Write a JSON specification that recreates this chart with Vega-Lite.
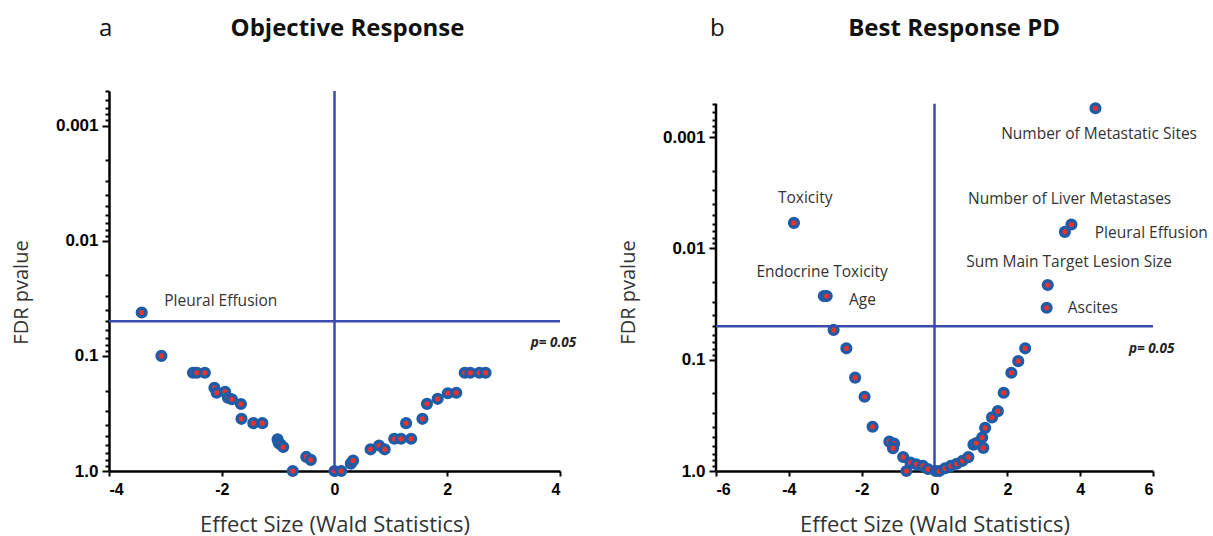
{
  "$schema": "https://vega.github.io/schema/vega-lite/v6.json",
  "background": "white",
  "padding": {"left": 11, "top": 17, "right": 5, "bottom": 2},
  "spacing": 41,
  "config": {
    "view": {"stroke": null},
    "axis": {
      "grid": false,
      "domainColor": "black",
      "domainWidth": 2.5,
      "tickColor": "black",
      "tickWidth": 2,
      "labelFont": "Liberation Sans",
      "labelFontWeight": "bold",
      "labelFontSize": 17,
      "labelColor": "black",
      "titleFont": "Open Sans",
      "titleFontWeight": "normal",
      "titleFontSize": 20,
      "titleColor": "#333333"
    }
  },
  "datasets": {
    "one": [{"k": 1}],
    "ptsA": [
      {"x": -3.42, "p": 0.042},
      {"x": -3.07, "p": 0.1},
      {"x": -2.51, "p": 0.14},
      {"x": -2.44, "p": 0.14},
      {"x": -2.3, "p": 0.14},
      {"x": -2.13, "p": 0.189},
      {"x": -2.09, "p": 0.209},
      {"x": -1.94, "p": 0.205},
      {"x": -1.89, "p": 0.231},
      {"x": -1.82, "p": 0.238},
      {"x": -1.66, "p": 0.262},
      {"x": -1.65, "p": 0.352},
      {"x": -1.44, "p": 0.384},
      {"x": -1.28, "p": 0.384},
      {"x": -1.01, "p": 0.531},
      {"x": -0.99, "p": 0.57},
      {"x": -0.96, "p": 0.586},
      {"x": -0.91, "p": 0.619},
      {"x": -0.5, "p": 0.755},
      {"x": -0.42, "p": 0.8},
      {"x": -0.74, "p": 1.0},
      {"x": 0.0, "p": 1.0},
      {"x": 0.12, "p": 1.0},
      {"x": 0.29, "p": 0.863},
      {"x": 0.33, "p": 0.81},
      {"x": 0.64, "p": 0.648},
      {"x": 0.79, "p": 0.6},
      {"x": 0.89, "p": 0.648},
      {"x": 1.06, "p": 0.525},
      {"x": 1.18, "p": 0.525},
      {"x": 1.36, "p": 0.525},
      {"x": 1.27, "p": 0.384},
      {"x": 1.56, "p": 0.352},
      {"x": 1.64, "p": 0.261},
      {"x": 1.83, "p": 0.236},
      {"x": 2.01, "p": 0.211},
      {"x": 2.16, "p": 0.209},
      {"x": 2.31, "p": 0.14},
      {"x": 2.41, "p": 0.14},
      {"x": 2.57, "p": 0.14},
      {"x": 2.68, "p": 0.14}
    ],
    "ptsB": [
      {"x": 4.42, "p": 0.00055},
      {"x": -3.86, "p": 0.0059},
      {"x": 3.76, "p": 0.0061},
      {"x": 3.58, "p": 0.0071},
      {"x": 3.11, "p": 0.0213},
      {"x": 3.08, "p": 0.0341},
      {"x": -3.04, "p": 0.0268},
      {"x": -2.96, "p": 0.0268},
      {"x": -2.77, "p": 0.054},
      {"x": -2.42, "p": 0.079},
      {"x": -2.18, "p": 0.145},
      {"x": -1.92, "p": 0.215},
      {"x": -1.7, "p": 0.4},
      {"x": -1.24, "p": 0.545},
      {"x": -1.11, "p": 0.568},
      {"x": -1.14, "p": 0.625},
      {"x": -0.86, "p": 0.748},
      {"x": -0.77, "p": 1.0},
      {"x": -0.66, "p": 0.84},
      {"x": -0.5, "p": 0.87},
      {"x": -0.32, "p": 0.9},
      {"x": -0.18, "p": 0.96},
      {"x": 0.03, "p": 1.0},
      {"x": 0.13, "p": 1.0},
      {"x": 0.29, "p": 0.946},
      {"x": 0.45, "p": 0.9},
      {"x": 0.61, "p": 0.86},
      {"x": 0.77, "p": 0.81},
      {"x": 0.93, "p": 0.75},
      {"x": 1.07, "p": 0.58},
      {"x": 1.15, "p": 0.56},
      {"x": 1.31, "p": 0.5},
      {"x": 1.34, "p": 0.62},
      {"x": 1.39, "p": 0.41},
      {"x": 1.58, "p": 0.33},
      {"x": 1.74, "p": 0.29},
      {"x": 1.9, "p": 0.198},
      {"x": 2.11, "p": 0.131},
      {"x": 2.3, "p": 0.103},
      {"x": 2.49, "p": 0.079}
    ],
    "labA": [
      {"x": -3.02, "p": 0.0334, "text": "Pleural Effusion"}
    ],
    "labB": [
      {"x": 1.83, "p": 0.00094, "text": "Number of Metastatic Sites"},
      {"x": 0.92, "p": 0.00362, "text": "Number of Liver Metastases"},
      {"x": 4.4, "p": 0.00723, "text": "Pleural Effusion"},
      {"x": 0.87, "p": 0.0132, "text": "Sum Main Target Lesion Size"},
      {"x": 3.66, "p": 0.0341, "text": "Ascites"},
      {"x": -4.3, "p": 0.0035, "text": "Toxicity"},
      {"x": -4.89, "p": 0.0163, "text": "Endocrine Toxicity"},
      {"x": -2.35, "p": 0.0291, "text": "Age"}
    ],
    "pA": [{"x": 3.48, "p": 0.0769, "text": "p= 0.05"}],
    "pB": [{"x": 5.34, "p": 0.0807, "text": "p= 0.05"}],
    "letterA": [{"x": -4.06, "p": 0.000145, "text": "a"}],
    "letterB": [{"x": -5.96, "p": 0.000107, "text": "b"}],
    "titleA": [{"x": 0.23, "p": 0.000145, "text": "Objective Response"}],
    "titleB": [{"x": 0.54, "p": 0.000107, "text": "Best Response PD"}]
  },
  "hconcat": [
    {
      "width": 451,
      "height": 380,
      "layer": [
        {
          "data": {"name": "ptsA"},
          "mark": {"type": "circle", "size": 75, "fill": "#e8322b", "stroke": "#1f5ca8", "strokeWidth": 3.5, "opacity": 1},
          "encoding": {
            "x": {"field": "x", "type": "quantitative", "scale": {"domain": [-4, 4], "nice": false, "zero": false},
              "axis": {"values": [-4, -2, 0, 2, 4], "labelExpr": "'' + datum.value", "labelFontSize": 16, "tickSize": 5, "labelPadding": 5, "titlePadding": 17, "titleFontSize": 22, "title": "Effect Size (Wald Statistics)"}},
            "y": {"field": "p", "type": "quantitative", "scale": {"type": "log", "domain": [0.0005, 1], "reverse": true, "nice": false},
              "axis": {
                "title": "FDR pvalue",
                "titlePadding": 24,
                "titleY": 201,
                "values": [0.0005, 0.0006, 0.0007, 0.0008, 0.0009, 0.001, 0.002, 0.003, 0.004, 0.005, 0.006, 0.007, 0.008, 0.009, 0.01, 0.02, 0.03, 0.04, 0.05, 0.06, 0.07, 0.08, 0.09, 0.1, 0.2, 0.3, 0.4, 0.5, 0.6, 0.7, 0.8, 0.9, 1],
                "labelExpr": "datum.value == 1 ? '1.0' : datum.value == 0.1 ? '0.1' : datum.value == 0.01 ? '0.01' : datum.value == 0.001 ? '0.001' : ''",
                "tickSize": {"condition": {"test": "datum.value == 1 || datum.value == 0.1 || datum.value == 0.01 || datum.value == 0.001", "value": 7}, "value": 4},
                "labelPadding": 4
              }}
          }
        },
        {
          "data": {"name": "one"},
          "mark": {"type": "rule", "color": "#3a4bab", "strokeWidth": 2.5},
          "encoding": {"y": {"datum": 0.05, "type": "quantitative"}}
        },
        {
          "data": {"name": "one"},
          "mark": {"type": "rule", "color": "#3a4bab", "strokeWidth": 2.5},
          "encoding": {"x": {"datum": 0, "type": "quantitative"}}
        },
        {
          "data": {"name": "labA"},
          "mark": {"type": "text", "align": "left", "baseline": "middle", "font": "Open Sans", "fontSize": 15.5, "color": "#333333"},
          "encoding": {
            "x": {"field": "x", "type": "quantitative"},
            "y": {"field": "p", "type": "quantitative"},
            "text": {"field": "text"}
          }
        },
        {
          "data": {"name": "pA"},
          "mark": {"type": "text", "align": "left", "baseline": "middle", "font": "Open Sans", "fontSize": 13.5, "fontWeight": "bold", "fontStyle": "italic", "color": "#222222"},
          "encoding": {
            "x": {"field": "x", "type": "quantitative"},
            "y": {"field": "p", "type": "quantitative"},
            "text": {"field": "text"}
          }
        },
        {
          "data": {"name": "letterA"},
          "mark": {"type": "text", "align": "center", "baseline": "middle", "font": "Open Sans", "fontSize": 24, "color": "#111111"},
          "encoding": {
            "x": {"field": "x", "type": "quantitative"},
            "y": {"field": "p", "type": "quantitative"},
            "text": {"field": "text"}
          }
        },
        {
          "data": {"name": "titleA"},
          "mark": {"type": "text", "align": "center", "baseline": "middle", "font": "Open Sans", "fontSize": 24, "fontWeight": "bold", "color": "#111111"},
          "encoding": {
            "x": {"field": "x", "type": "quantitative"},
            "y": {"field": "p", "type": "quantitative"},
            "text": {"field": "text"}
          }
        }
      ]
    },
    {
      "width": 437,
      "height": 380,
      "layer": [
        {
          "data": {"name": "ptsB"},
          "mark": {"type": "circle", "size": 75, "fill": "#e8322b", "stroke": "#1f5ca8", "strokeWidth": 3.5, "opacity": 1},
          "encoding": {
            "x": {"field": "x", "type": "quantitative", "scale": {"domain": [-6, 6], "nice": false, "zero": false},
              "axis": {"values": [-6, -4, -2, 0, 2, 4, 6], "labelExpr": "'' + datum.value", "labelFontSize": 16, "tickSize": 5, "labelPadding": 5, "titlePadding": 17, "titleFontSize": 22, "title": "Effect Size (Wald Statistics)"}},
            "y": {"field": "p", "type": "quantitative", "scale": {"type": "log", "domain": [0.000385, 1], "reverse": true, "nice": false},
              "axis": {
                "title": "FDR pvalue",
                "titlePadding": 24,
                "titleY": 201,
                "domain": false,
                "values": [0.0005, 0.0006, 0.0007, 0.0008, 0.0009, 0.001, 0.002, 0.003, 0.004, 0.005, 0.006, 0.007, 0.008, 0.009, 0.01, 0.02, 0.03, 0.04, 0.05, 0.06, 0.07, 0.08, 0.09, 0.1, 0.2, 0.3, 0.4, 0.5, 0.6, 0.7, 0.8, 0.9, 1],
                "labelExpr": "datum.value == 1 ? '1.0' : datum.value == 0.1 ? '0.1' : datum.value == 0.01 ? '0.01' : datum.value == 0.001 ? '0.001' : ''",
                "tickSize": {"condition": {"test": "datum.value == 1 || datum.value == 0.1 || datum.value == 0.01 || datum.value == 0.001", "value": 7}, "value": 4},
                "labelPadding": 4
              }}
          }
        },
        {
          "data": {"name": "one"},
          "mark": {"type": "rule", "color": "black", "strokeWidth": 2.5},
          "encoding": {"x": {"datum": -6, "type": "quantitative"}, "y": {"datum": 0.0005, "type": "quantitative"}, "y2": {"datum": 1}}
        },
        {
          "data": {"name": "one"},
          "mark": {"type": "rule", "color": "#3a4bab", "strokeWidth": 2.5},
          "encoding": {"y": {"datum": 0.05, "type": "quantitative"}}
        },
        {
          "data": {"name": "one"},
          "mark": {"type": "rule", "color": "#3a4bab", "strokeWidth": 2.5},
          "encoding": {"x": {"datum": 0, "type": "quantitative"}, "y": {"datum": 0.0005, "type": "quantitative"}, "y2": {"datum": 1}}
        },
        {
          "data": {"name": "labB"},
          "mark": {"type": "text", "align": "left", "baseline": "middle", "font": "Open Sans", "fontSize": 15.5, "color": "#333333"},
          "encoding": {
            "x": {"field": "x", "type": "quantitative"},
            "y": {"field": "p", "type": "quantitative"},
            "text": {"field": "text"}
          }
        },
        {
          "data": {"name": "pB"},
          "mark": {"type": "text", "align": "left", "baseline": "middle", "font": "Open Sans", "fontSize": 13.5, "fontWeight": "bold", "fontStyle": "italic", "color": "#222222"},
          "encoding": {
            "x": {"field": "x", "type": "quantitative"},
            "y": {"field": "p", "type": "quantitative"},
            "text": {"field": "text"}
          }
        },
        {
          "data": {"name": "letterB"},
          "mark": {"type": "text", "align": "center", "baseline": "middle", "font": "Open Sans", "fontSize": 24, "color": "#111111"},
          "encoding": {
            "x": {"field": "x", "type": "quantitative"},
            "y": {"field": "p", "type": "quantitative"},
            "text": {"field": "text"}
          }
        },
        {
          "data": {"name": "titleB"},
          "mark": {"type": "text", "align": "center", "baseline": "middle", "font": "Open Sans", "fontSize": 24, "fontWeight": "bold", "color": "#111111"},
          "encoding": {
            "x": {"field": "x", "type": "quantitative"},
            "y": {"field": "p", "type": "quantitative"},
            "text": {"field": "text"}
          }
        }
      ]
    }
  ]
}
